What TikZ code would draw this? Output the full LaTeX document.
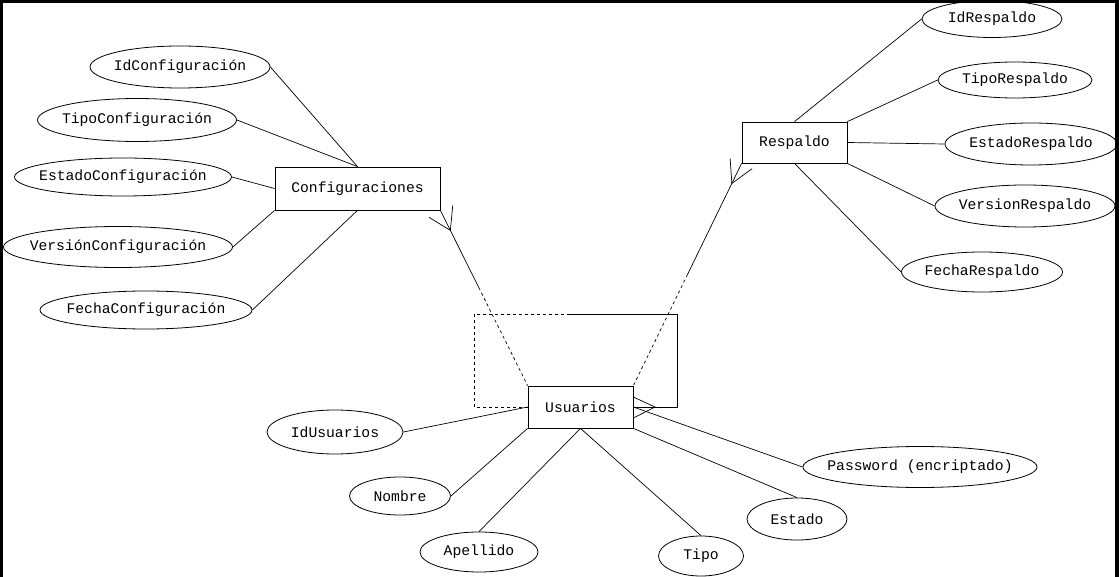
\documentclass[tikz,border=0pt]{standalone}
\usepackage{fontspec}
\newfontfamily\ermono{Liberation Mono}
\usetikzlibrary{shapes.geometric,calc}
\newcommand\zbox[1]{\makebox[0pt]{#1}}
\tikzset{
  attr/.style={draw, ellipse, inner sep=0pt, line width=0.8pt},
  entity/.style={draw, rectangle, inner sep=0pt, line width=0.8pt},
  conn/.style={line width=0.7pt},
  dashconn/.style={line width=0.7pt, dash pattern=on 3pt off 3pt},
  every node/.style={font=\ermono\fontsize{14.7}{16}\selectfont}
}
\begin{document}
\begin{tikzpicture}[x=1pt,y=-1pt]
\fill[white] (0,0) rectangle (1119,577);
\useasboundingbox (0,0) rectangle (1119,577);

% entities
\node[entity, minimum width=165pt, minimum height=43pt] (conf) at (357.5,188.5) {\zbox{Configuraciones}};
\node[entity, minimum width=105pt, minimum height=41pt] (resp) at (794.5,142.5) {\zbox{Respaldo}};
\node[entity, minimum width=105pt, minimum height=42pt] (usu) at (580.5,407) {\zbox{Usuarios}};

% Configuraciones attributes
\node[attr, minimum width=180pt, minimum height=42pt] (idconf) at (180,67) {\zbox{IdConfiguración}};
\node[attr, minimum width=199pt, minimum height=43pt] (tipoconf) at (137,120) {\zbox{TipoConfiguración}};
\node[attr, minimum width=217pt, minimum height=38pt] (estconf) at (123,177) {\zbox{EstadoConfiguración}};
\node[attr, minimum width=229pt, minimum height=41pt] (verconf) at (118,247) {\zbox{VersiónConfiguración}};
\node[attr, minimum width=212pt, minimum height=38pt] (fechaconf) at (146,310) {\zbox{FechaConfiguración}};

% Respaldo attributes
\node[attr, minimum width=140pt, minimum height=37pt] (idresp) at (992,19) {\zbox{IdRespaldo}};
\node[attr, minimum width=154pt, minimum height=36pt] (tiporesp) at (1015,80) {\zbox{TipoRespaldo}};
\node[attr, minimum width=172pt, minimum height=42pt] (estresp) at (1031,144) {\zbox{EstadoRespaldo}};
\node[attr, minimum width=180pt, minimum height=42pt] (verresp) at (1025,206) {\zbox{VersionRespaldo}};
\node[attr, minimum width=161pt, minimum height=40pt] (fecharesp) at (982,272) {\zbox{FechaRespaldo}};

% Usuarios attributes
\node[attr, minimum width=136pt, minimum height=44pt] (idusu) at (335,432) {\zbox{IdUsuarios}};
\node[attr, minimum width=101pt, minimum height=38pt] (nombre) at (400,496) {\zbox{Nombre}};
\node[attr, minimum width=118pt, minimum height=40pt] (apellido) at (479,552) {\zbox{Apellido}};
\node[attr, minimum width=85pt, minimum height=40pt] (tipo) at (701,556) {\zbox{Tipo}};
\node[attr, minimum width=100pt, minimum height=42pt] (estado) at (797,519) {\zbox{Estado}};
\node[attr, minimum width=234pt, minimum height=41pt] (pass) at (920,467) {\zbox{Password (encriptado)}};

% attribute connectors
\draw[conn] (idconf.east) -- (conf.north);
\draw[conn] (tipoconf.east) -- (conf.north);
\draw[conn] (estconf.east) -- (conf.west);
\draw[conn] (verconf.east) -- (conf.south west);
\draw[conn] (fechaconf.east) -- (conf.south);

\draw[conn] (idresp.west) -- (resp.north);
\draw[conn] (tiporesp.west) -- (resp.north east);
\draw[conn] (estresp.west) -- (resp.east);
\draw[conn] (verresp.west) -- (resp.south east);
\draw[conn] (fecharesp.west) -- (resp.south);

\draw[conn] (idusu.east) -- (usu.west);
\draw[conn] (nombre.east) -- (usu.south west);
\draw[conn] (apellido.north) -- (usu.south);
\draw[conn] (tipo.north) -- (usu.south);
\draw[conn] (estado.north) -- (usu.south east);
\draw[conn] (pass.west) -- (usu.east);

% relationship Configuraciones - Usuarios
\coordinate (cmid) at ($(conf.south east)!0.44!(usu.north west)$);
\coordinate (cfoot) at ($(conf.south east)!0.114!(usu.north west)$);
\draw[conn] (conf.south east) -- (cmid);
\draw[dashconn] (cmid) -- (usu.north west);
\draw[conn] ($(cfoot)!25pt!-32:(conf.south east)$) -- (cfoot) -- ($(cfoot)!25pt!32:(conf.south east)$);

% relationship Respaldo - Usuarios
\coordinate (rmid) at ($(resp.south west)!0.5!(usu.north east)$);
\coordinate (rfoot) at ($(resp.south west)!0.09!(usu.north east)$);
\draw[conn] (resp.south west) -- (rmid);
\draw[dashconn] (rmid) -- (usu.north east);
\draw[conn] ($(rfoot)!25pt!-28:(resp.south west)$) -- (rfoot) -- ($(rfoot)!25pt!30:(resp.south west)$);

% recursive relationship on Usuarios
\coordinate (lc) at (474,407);
\coordinate (tl) at (474,314);
\coordinate (tm) at (568,314);
\coordinate (tr) at (677,314);
\coordinate (br) at (677,407);
\coordinate (ufoot) at (655,407);
\draw[dashconn] (usu.west) -- (lc) -- (tl) -- (tm);
\draw[conn] (tm) -- (tr) -- (br) -- (usu.east);
\draw[conn] ($(usu.east)+(0,-10)$) -- (ufoot) -- ($(usu.east)+(0,11)$);

% frame
\fill[black] (0,0) rectangle (3,577);
\fill[black] (0,0) rectangle (1119,3);
\fill[black] (1115,0) rectangle (1119,577);
\end{tikzpicture}
\end{document}
